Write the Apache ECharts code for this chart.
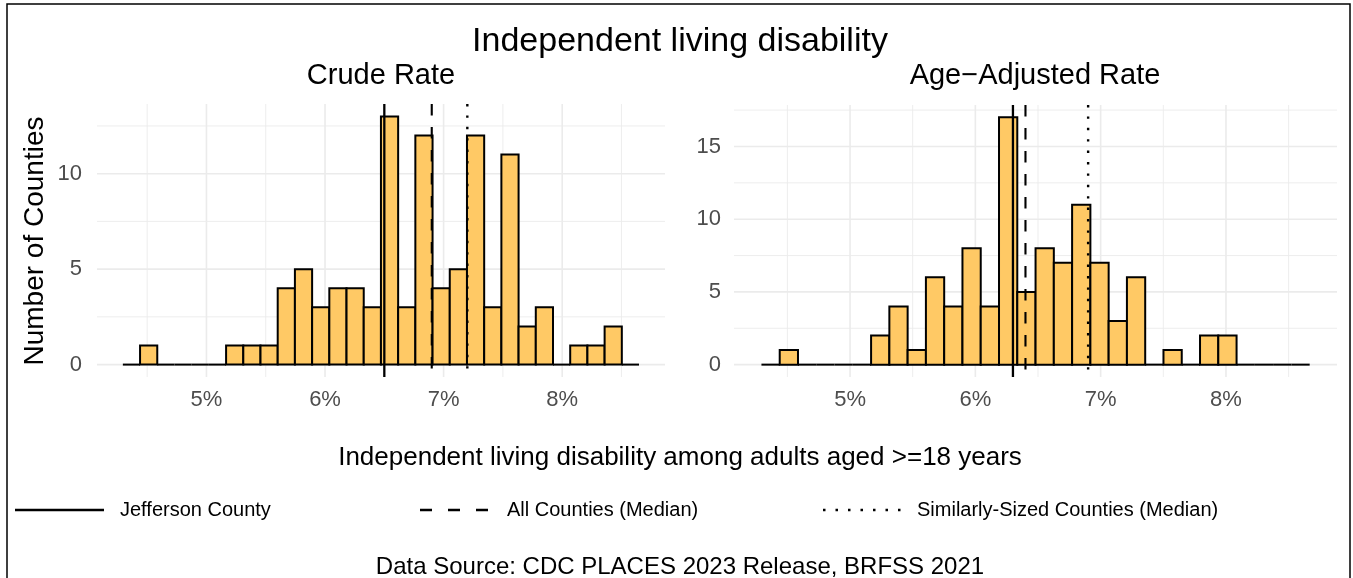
<!DOCTYPE html>
<html>
<head>
<meta charset="utf-8">
<title>Independent living disability</title>
<script src="https://cdn.jsdelivr.net/npm/echarts@6/dist/echarts.min.js"></script>
<style>
  html, body { margin: 0; padding: 0; background: #fff; }
  #chart { width: 1353px; height: 578px; }
</style>
</head>
<body>
<div id="chart"></div>
<script>
// histogram counts, 30 bins each
let crudeCounts = [0, 1, 0, 0, 0, 0, 1, 1, 1, 4, 5, 3, 4, 4, 3, 13, 3, 12, 4, 5, 12, 3, 11, 2, 3, 0, 1, 1, 2, 0];
let adjustedCounts = [0, 1, 0, 0, 0, 0, 2, 4, 1, 6, 4, 8, 4, 17, 5, 8, 7, 11, 7, 3, 6, 0, 1, 0, 2, 2, 0, 0, 0, 0];
let crudeBinStart = 4.295;
let crudeBinWidth = 0.1451;
let adjustedBinStart = 4.293;
let adjustedBinWidth = 0.14583;

// reference lines: Jefferson County, all counties median, similarly-sized median
let crudeRefs = [6.5, 6.9, 7.2];
let adjustedRefs = [6.3, 6.4, 6.9];

let xTickValues = [5, 6, 7, 8];
let xMinorValues = [4.5, 5.5, 6.5, 7.5, 8.5];
let crudeYTicks = [0, 5, 10];
let crudeYMinor = [2.5, 7.5, 12.5];
let adjustedYTicks = [0, 5, 10, 15];
let adjustedYMinor = [2.5, 7.5, 12.5, 17.5];

let legendNames = ['Jefferson County', 'All Counties (Median)', 'Similarly-Sized Counties (Median)'];

let font = '"Liberation Sans", Arial, Helvetica, sans-serif';
let barFill = '#ffc965';
let gridColor = '#ebebeb';
let refStyles = [
  { lineWidth: 2.3, lineDash: null },
  { lineWidth: 2.1, lineDash: [11.5, 11.5] },
  { lineWidth: 2.4, lineDash: [2.4, 9] }
];

function binData(counts, start, width) {
  return counts.map((c, i) => [start + i * width, start + (i + 1) * width, c]);
}

function histSeries(idx, counts, start, width) {
  return {
    type: 'custom',
    xAxisIndex: idx,
    yAxisIndex: idx,
    z: 3,
    silent: true,
    encode: { x: [0, 1], y: 2 },
    data: binData(counts, start, width),
    renderItem(params, api) {
      let p0 = api.coord([api.value(0), api.value(2)]);
      let p1 = api.coord([api.value(1), 0]);
      if (api.value(2) === 0) {
        return {
          type: 'line',
          shape: { x1: p0[0], y1: p1[1], x2: p1[0], y2: p1[1] },
          style: { stroke: '#000', lineWidth: 2 }
        };
      }
      return {
        type: 'rect',
        shape: { x: p0[0], y: p0[1], width: p1[0] - p0[0], height: p1[1] - p0[1] },
        style: { fill: barFill, stroke: '#000', lineWidth: 2 }
      };
    }
  };
}

// gridlines spanning the whole panel
function gridSeries(idx, values, vertical, width) {
  return {
    type: 'custom',
    xAxisIndex: idx,
    yAxisIndex: idx,
    z: 1,
    silent: true,
    encode: vertical ? { x: 0 } : { y: 0 },
    data: values.map(v => [v]),
    renderItem(params, api) {
      let cs = params.coordSys;
      let shape;
      if (vertical) {
        let x = api.coord([api.value(0), 0])[0];
        shape = { x1: x, y1: cs.y, x2: x, y2: cs.y + cs.height };
      } else {
        let y = api.coord([0, api.value(0)])[1];
        shape = { x1: cs.x, y1: y, x2: cs.x + cs.width, y2: y };
      }
      return { type: 'line', shape: shape, style: { stroke: gridColor, lineWidth: width } };
    }
  };
}

function refSeries(idx, refs) {
  return {
    type: 'custom',
    xAxisIndex: idx,
    yAxisIndex: idx,
    z: 5,
    silent: true,
    encode: { x: 0 },
    data: refs.map((v, i) => [v, i]),
    renderItem(params, api) {
      let cs = params.coordSys;
      let x = api.coord([api.value(0), 0])[0];
      let st = refStyles[api.value(1)];
      return {
        type: 'line',
        shape: { x1: x, y1: cs.y, x2: x, y2: cs.y + cs.height },
        style: { stroke: '#000', lineWidth: st.lineWidth, lineDash: st.lineDash, lineCap: 'butt' }
      };
    }
  };
}

function xAxis(idx, min, max) {
  return {
    type: 'value', gridIndex: idx, min: min, max: max,
    axisLine: { show: false }, axisTick: { show: false }, splitLine: { show: false },
    axisLabel: {
      customValues: xTickValues, formatter: '{value}%',
      color: '#4d4d4d', fontSize: 22, fontFamily: font, margin: 12
    }
  };
}

function yAxis(idx, min, max, ticks, margin) {
  return {
    type: 'value', gridIndex: idx, min: min, max: max,
    axisLine: { show: false }, axisTick: { show: false }, splitLine: { show: false },
    axisLabel: {
      customValues: ticks, color: '#4d4d4d', fontSize: 22, fontFamily: font, margin: margin
    }
  };
}

function legendGraphics() {
  let keys = [
    { x1: 15, x2: 104, tx: 120 },
    { x1: 420, x2: 492, tx: 507 },
    { x1: 823, x2: 902, tx: 917 }
  ];
  let dashes = [null, [12, 16], [2.5, 10]];
  let out = [];
  keys.forEach((k, i) => {
    out.push({
      type: 'line', shape: { x1: k.x1, y1: 510, x2: k.x2, y2: 510 },
      style: { stroke: '#000', lineWidth: 2.6, lineDash: dashes[i] }
    });
    out.push({
      type: 'text', x: k.tx, y: 510,
      style: { text: legendNames[i], font: '20px ' + font, fill: '#000', textVerticalAlign: 'middle' }
    });
  });
  return out;
}

let chart = echarts.init(document.getElementById('chart'), null, { renderer: 'canvas' });

let option = {
  backgroundColor: '#fff',
  animation: false,
  grid: [
    { left: 97, top: 104, width: 568, height: 273 },
    { left: 734, top: 105, width: 603, height: 272 }
  ],
  xAxis: [xAxis(0, 4.077, 8.867), xAxis(1, 4.074, 8.886)],
  yAxis: [yAxis(0, -0.65, 13.65, crudeYTicks, 15), yAxis(1, -0.85, 17.85, adjustedYTicks, 13)],
  series: [
    gridSeries(0, xMinorValues, true, 0.9),
    gridSeries(0, xTickValues, true, 1.6),
    gridSeries(0, crudeYMinor, false, 0.9),
    gridSeries(0, crudeYTicks, false, 1.6),
    gridSeries(1, xMinorValues, true, 0.9),
    gridSeries(1, xTickValues, true, 1.6),
    gridSeries(1, adjustedYMinor, false, 0.9),
    gridSeries(1, adjustedYTicks, false, 1.6),
    histSeries(0, crudeCounts, crudeBinStart, crudeBinWidth),
    histSeries(1, adjustedCounts, adjustedBinStart, adjustedBinWidth),
    refSeries(0, crudeRefs),
    refSeries(1, adjustedRefs)
  ],
  graphic: [
    {
      type: 'rect', shape: { x: 7, y: 4, width: 1343, height: 620 },
      style: { fill: 'none', stroke: '#000', lineWidth: 1.5 }, z: 10
    },
    {
      type: 'text', x: 680, y: 42,
      style: { text: 'Independent living disability', font: '34px ' + font, fill: '#000', textAlign: 'center', textVerticalAlign: 'middle' }
    },
    {
      type: 'text', x: 381, y: 76,
      style: { text: 'Crude Rate', font: '29px ' + font, fill: '#000', textAlign: 'center', textVerticalAlign: 'middle' }
    },
    {
      type: 'text', x: 1035, y: 76,
      style: { text: 'Age\u2212Adjusted Rate', font: '29px ' + font, fill: '#000', textAlign: 'center', textVerticalAlign: 'middle' }
    },
    {
      type: 'text', x: 35, y: 241, rotation: Math.PI / 2,
      style: { text: 'Number of Counties', font: '28px ' + font, fill: '#000', textAlign: 'center', textVerticalAlign: 'middle' }
    },
    {
      type: 'text', x: 680, y: 458,
      style: { text: 'Independent living disability among adults aged >=18 years', font: '26px ' + font, fill: '#000', textAlign: 'center', textVerticalAlign: 'middle' }
    },
    {
      type: 'text', x: 680, y: 567,
      style: { text: 'Data Source: CDC PLACES 2023 Release, BRFSS 2021', font: '24px ' + font, fill: '#000', textAlign: 'center', textVerticalAlign: 'middle' }
    }
  ].concat(legendGraphics())
};

chart.setOption(option);
</script>
</body>
</html>
